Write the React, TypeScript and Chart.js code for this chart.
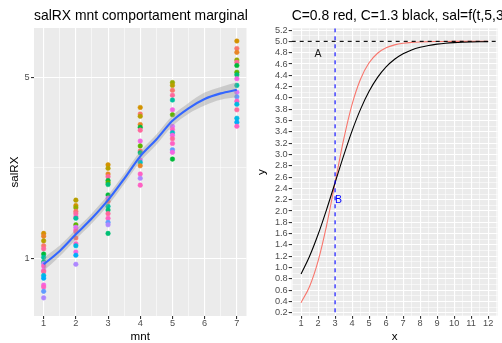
import React, { useEffect, useRef } from "react";
import { Chart, registerables } from "chart.js";

Chart.register(...registerables);

const FONT = "'Liberation Sans', Arial, Helvetica, sans-serif";
const PANEL_BG = "#EBEBEB";
const GRID = "#FFFFFF";
const TICK_TXT = "#4D4D4D";
const TICK_MARK = "#333333";

// ---------------- Left panel data ----------------
const LEFT_TITLE = "salRX mnt comportament marginal";
const LEFT_X_TITLE = "mnt";
const LEFT_Y_TITLE = "salRX";

const PALETTE = [
  "#F8766D", "#E88526", "#D39200", "#B79F00", "#93AA00", "#5EB300",
  "#00BA38", "#00BF74", "#00C19F", "#00BFC4", "#00B9E3", "#00ADFA",
  "#619CFF", "#AE87FF", "#DB72FB", "#F564E3", "#FF61C3", "#FF699C",
];

const MNT_LEVELS = [1, 2, 3, 4, 5, 7];
const SAL_M1 = [1.25, 1.22, 1.17, 1.12, 1.09, 1.04, 1.01, 0.97, 0.957, 0.935, 0.9, 0.89, 0.86, 0.84, 0.79, 0.776, 0.747, 0.705];
const GRP_M1 = [2, 1, 3, 0, 17, 6, 8, 7, 13, 16, 15, 17, 10, 11, 15, 16, 12, 13];
const SAL_M2 = [1.68, 1.6, 1.57, 1.52, 1.49, 1.45, 1.43, 1.35, 1.32, 1.29, 1.27, 1.2, 1.14, 1.12, 1.06, 1.03, 0.95];
const GRP_M2 = [3, 2, 4, 0, 17, 16, 8, 5, 14, 15, 17, 0, 16, 10, 15, 11, 13];
const SAL_M3 = [2.3, 2.23, 2.12, 2.07, 2.0, 1.96, 1.93, 1.76, 1.71, 1.66, 1.59, 1.54, 1.49, 1.43, 1.38, 1.35, 1.25];
const GRP_M3 = [2, 3, 1, 17, 6, 5, 7, 6, 14, 0, 8, 7, 17, 16, 12, 13, 7];
const SAL_M4 = [3.83, 3.61, 3.54, 3.29, 3.21, 3.13, 2.84, 2.72, 2.6, 2.56, 2.4, 2.35, 2.28, 2.12, 2.04, 1.92];
const GRP_M4 = [2, 0, 3, 1, 6, 17, 15, 5, 0, 7, 14, 9, 1, 16, 13, 16];
const SAL_M5 = [4.78, 4.66, 4.46, 4.27, 4.09, 3.75, 3.59, 3.24, 3.15, 3.06, 2.99, 2.9, 2.78, 2.63, 2.57, 2.42];
const GRP_M5 = [4, 3, 0, 17, 8, 15, 5, 14, 16, 9, 15, 17, 16, 12, 15, 6];
const SAL_M7 = [6.91, 6.47, 6.25, 5.84, 5.72, 5.56, 5.24, 5.12, 4.94, 4.66, 4.38, 4.21, 4.05, 3.94, 3.75, 3.48, 3.36, 3.24];
const GRP_M7 = [2, 0, 1, 4, 17, 6, 5, 7, 15, 8, 14, 12, 16, 10, 17, 10, 11, 16];

const SAL_COLUMNS = [SAL_M1, SAL_M2, SAL_M3, SAL_M4, SAL_M5, SAL_M7];
const GRP_COLUMNS = [GRP_M1, GRP_M2, GRP_M3, GRP_M4, GRP_M5, GRP_M7];

const SMOOTH_X = [1, 1.5, 2, 2.5, 3, 3.5, 4, 4.5, 5, 5.5, 6, 6.5, 7];
const SMOOTH_FIT = [0.95, 1.07, 1.24, 1.43, 1.68, 2.03, 2.48, 2.88, 3.4, 3.8, 4.13, 4.34, 4.48];
const SMOOTH_LO = [0.895, 1.02, 1.185, 1.367, 1.606, 1.94, 2.37, 2.752, 3.25, 3.625, 3.9, 4.1, 4.19];
const SMOOTH_HI = [1.008, 1.122, 1.298, 1.497, 1.758, 2.124, 2.595, 3.014, 3.557, 3.983, 4.37, 4.595, 4.79];

const LEFT_X_MIN = 0.7;
const LEFT_X_MAX = 7.3;
const LEFT_Y_MIN = 0.628;
const LEFT_Y_MAX = 7.76;
const LEFT_X_BREAKS = [1, 2, 3, 4, 5, 6, 7];
const LEFT_X_LABELS = ["1", "2", "3", "4", "5", "6", "7"];
const LEFT_Y_BREAKS = [1, 5];
const LEFT_Y_LABELS = ["1", "5"];

// ---------------- Right panel data ----------------
const RIGHT_TITLE = "C=0.8 red, C=1.3 black, sal=f(t,5,3,C)";
const RIGHT_X_TITLE = "x";
const RIGHT_Y_TITLE = "y";

const T_VALUES = [1, 1.5, 2, 2.5, 3, 3.5, 4, 4.5, 5, 5.5, 6, 6.5, 7, 7.5, 8, 8.5, 9, 9.5, 10, 10.5, 11, 11.5, 12];
const SAL_C08 = [0.379, 0.665, 1.114, 1.743, 2.5, 3.257, 3.886, 4.335, 4.621, 4.79, 4.885, 4.938, 4.967, 4.982, 4.99, 4.995, 4.997, 4.9985, 4.9992, 4.9996, 4.9998, 4.9999, 5.0];
const SAL_C13 = [0.884, 1.199, 1.583, 2.025, 2.5, 2.975, 3.417, 3.801, 4.116, 4.362, 4.548, 4.683, 4.78, 4.848, 4.895, 4.928, 4.951, 4.967, 4.977, 4.984, 4.989, 4.993, 4.995];

const H_LINE = 5;
const V_LINE = 3;
const LABEL_A = { text: "A", x: 2, y: 4.78 };
const LABEL_B = { text: "B", x: 3.2, y: 2.2 };

const RIGHT_X_MIN = 0.45;
const RIGHT_X_MAX = 12.55;
const RIGHT_Y_MIN = 0.148;
const RIGHT_Y_MAX = 5.231;
const RIGHT_X_BREAKS = [1, 2, 3, 4, 5, 6, 7, 8, 9, 10, 11, 12];
const RIGHT_Y_BREAKS = [0.2, 0.4, 0.6, 0.8, 1.0, 1.2, 1.4, 1.6, 1.8, 2.0, 2.2, 2.4, 2.6, 2.8, 3.0, 3.2, 3.4, 3.6, 3.8, 4.0, 4.2, 4.4, 4.6, 4.8, 5.0, 5.2];
const RIGHT_Y_LABELS = ["0.2", "0.4", "0.6", "0.8", "1.0", "1.2", "1.4", "1.6", "1.8", "2.0", "2.2", "2.4", "2.6", "2.8", "3.0", "3.2", "3.4", "3.6", "3.8", "4.0", "4.2", "4.4", "4.6", "4.8", "5.0", "5.2"];

// ---------------- helpers ----------------
function minorBreaks(b: number[], min: number, max: number, log = false): number[] {
  const t = log ? b.map((v) => Math.log(v)) : b.slice();
  const d = t[1] - t[0];
  const ext = [t[0] - d, ...t, t[t.length - 1] + d];
  const out: number[] = [];
  for (let i = 0; i < ext.length - 1; i++) {
    const m = (ext[i] + ext[i + 1]) / 2;
    const v = log ? Math.exp(m) : m;
    if (v > min && v < max) out.push(v);
  }
  return out;
}

function indexIn(list: number[], v: number): number {
  for (let i = 0; i < list.length; i++) if (Math.abs(list[i] - v) < 1e-7) return i;
  return -1;
}

function axisFor(opts: {
  type: "linear" | "logarithmic";
  min: number;
  max: number;
  breaks: number[];
  labels: string[];
  log?: boolean;
  horizontal: boolean;
  size: number;
  title: string;
  titlePad: any;
  labelPad: number;
}) {
  const minors = minorBreaks(opts.breaks, opts.min, opts.max, !!opts.log);
  const all = [...opts.breaks, ...minors].sort((a, b) => a - b);
  return {
    type: opts.type,
    min: opts.min,
    max: opts.max,
    position: opts.horizontal ? "bottom" : "left",
    afterBuildTicks: (scale: any) => {
      scale.ticks = all.map((v) => ({ value: v }));
    },
    afterFit: (scale: any) => {
      if (opts.horizontal) scale.height = opts.size;
      else scale.width = opts.size;
    },
    border: { display: false },
    grid: {
      color: GRID,
      lineWidth: (ctx: any) => (ctx.tick && indexIn(opts.breaks, ctx.tick.value) >= 0 ? 1.1 : 0.55),
      tickColor: (ctx: any) => (ctx.tick && indexIn(opts.breaks, ctx.tick.value) >= 0 ? TICK_MARK : "rgba(0,0,0,0)"),
      tickWidth: 1.1,
      tickLength: 3,
      drawTicks: true,
      drawOnChartArea: true,
    },
    ticks: {
      autoSkip: false,
      maxRotation: 0,
      minRotation: 0,
      padding: opts.labelPad,
      color: TICK_TXT,
      font: { family: FONT, size: 9.2, lineHeight: 1 },
      callback: (value: any) => {
        const i = indexIn(opts.breaks, Number(value));
        return i >= 0 ? opts.labels[i] : "";
      },
    },
    title: {
      display: true,
      text: opts.title,
      color: "#000000",
      font: { family: FONT, size: 11.6, lineHeight: 1.2 },
      padding: opts.titlePad,
    },
  };
}

const panelPlugin = (title: string) => ({
  id: "panelDecor",
  beforeDraw(chart: any) {
    const { ctx, chartArea } = chart;
    ctx.save();
    ctx.fillStyle = PANEL_BG;
    ctx.fillRect(chartArea.left, chartArea.top, chartArea.right - chartArea.left, chartArea.bottom - chartArea.top);
    ctx.restore();
  },
  afterDraw(chart: any) {
    const { ctx, chartArea } = chart;
    ctx.save();
    ctx.font = `13.9px ${FONT}`;
    ctx.fillStyle = "#000000";
    ctx.textAlign = "left";
    ctx.textBaseline = "alphabetic";
    ctx.fillText(title, chartArea.left, 19.5);
    ctx.restore();
  },
});

const refPlugin = {
  id: "refLines",
  afterDatasetsDraw(chart: any) {
    const { ctx, chartArea, scales } = chart;
    const x = scales.x;
    const y = scales.y;
    ctx.save();
    ctx.beginPath();
    ctx.rect(chartArea.left, chartArea.top, chartArea.right - chartArea.left, chartArea.bottom - chartArea.top);
    ctx.clip();
    ctx.lineWidth = 1.1;
    ctx.setLineDash([4, 4]);
    const vx = x.getPixelForValue(V_LINE);
    ctx.strokeStyle = "#0000FF";
    ctx.beginPath();
    ctx.moveTo(vx, chartArea.top);
    ctx.lineTo(vx, chartArea.bottom);
    ctx.stroke();
    const hy = y.getPixelForValue(H_LINE);
    ctx.strokeStyle = "#000000";
    ctx.beginPath();
    ctx.moveTo(chartArea.left, hy);
    ctx.lineTo(chartArea.right, hy);
    ctx.stroke();
    ctx.setLineDash([]);
    ctx.font = `10.5px ${FONT}`;
    ctx.textAlign = "center";
    ctx.textBaseline = "middle";
    ctx.fillStyle = "#1A1A1A";
    ctx.fillText(LABEL_A.text, x.getPixelForValue(LABEL_A.x), y.getPixelForValue(LABEL_A.y));
    ctx.fillStyle = "#0000FF";
    ctx.fillText(LABEL_B.text, x.getPixelForValue(LABEL_B.x), y.getPixelForValue(LABEL_B.y));
    ctx.restore();
  },
};

function leftConfig(): any {
  const pts: { x: number; y: number }[] = [];
  const cols: string[] = [];
  MNT_LEVELS.forEach((m, ci) => {
    SAL_COLUMNS[ci].forEach((s, k) => {
      pts.push({ x: m, y: s });
      cols.push(PALETTE[GRP_COLUMNS[ci][k]]);
    });
  });
  const xy = (ys: number[]) => SMOOTH_X.map((x, i) => ({ x, y: ys[i] }));
  return {
    type: "line",
    data: {
      datasets: [
        {
          label: "fit",
          data: xy(SMOOTH_FIT),
          borderColor: "#3366FF",
          borderWidth: 2.1,
          pointRadius: 0,
          fill: false,
          cubicInterpolationMode: "monotone",
          order: 1,
        },
        {
          label: "hi",
          data: xy(SMOOTH_HI),
          borderColor: "rgba(0,0,0,0)",
          borderWidth: 0,
          pointRadius: 0,
          fill: "+1",
          backgroundColor: "rgba(153,153,153,0.4)",
          cubicInterpolationMode: "monotone",
          order: 2,
        },
        {
          label: "lo",
          data: xy(SMOOTH_LO),
          borderColor: "rgba(0,0,0,0)",
          borderWidth: 0,
          pointRadius: 0,
          fill: false,
          cubicInterpolationMode: "monotone",
          order: 3,
        },
        {
          label: "points",
          data: pts,
          showLine: false,
          pointRadius: 2.3,
          pointBorderWidth: 0.5,
          pointBackgroundColor: cols,
          pointBorderColor: cols,
          order: 4,
        },
      ],
    },
    options: {
      animation: false,
      responsive: false,
      events: [],
      layout: { padding: { top: 28, right: 3, bottom: 0, left: 0 } },
      plugins: { legend: { display: false }, tooltip: { enabled: false }, title: { display: false } },
      scales: {
        x: axisFor({
          type: "linear", min: LEFT_X_MIN, max: LEFT_X_MAX, breaks: LEFT_X_BREAKS, labels: LEFT_X_LABELS,
          horizontal: true, size: 27, title: LEFT_X_TITLE, titlePad: { top: 0, bottom: -0.8 }, labelPad: 0,
        }),
        y: axisFor({
          type: "logarithmic", min: LEFT_Y_MIN, max: LEFT_Y_MAX, breaks: LEFT_Y_BREAKS, labels: LEFT_Y_LABELS,
          log: true, horizontal: false, size: 34, title: LEFT_Y_TITLE, titlePad: { top: 8, bottom: 0 }, labelPad: 1.5,
        }),
      },
    },
    plugins: [panelPlugin(LEFT_TITLE)],
  };
}

function rightConfig(): any {
  const xy = (ys: number[]) => T_VALUES.map((x, i) => ({ x, y: ys[i] }));
  return {
    type: "line",
    data: {
      datasets: [
        {
          label: "C=0.8",
          data: xy(SAL_C08),
          borderColor: "#F8766D",
          borderWidth: 1.1,
          pointRadius: 0,
          fill: false,
          cubicInterpolationMode: "monotone",
          order: 2,
        },
        {
          label: "C=1.3",
          data: xy(SAL_C13),
          borderColor: "#000000",
          borderWidth: 1.1,
          pointRadius: 0,
          fill: false,
          cubicInterpolationMode: "monotone",
          order: 1,
        },
      ],
    },
    options: {
      animation: false,
      responsive: false,
      events: [],
      layout: { padding: { top: 28.3, right: 4.5, bottom: 0, left: 0 } },
      plugins: { legend: { display: false }, tooltip: { enabled: false }, title: { display: false } },
      scales: {
        x: axisFor({
          type: "linear", min: RIGHT_X_MIN, max: RIGHT_X_MAX, breaks: RIGHT_X_BREAKS, labels: RIGHT_X_BREAKS.map(String),
          horizontal: true, size: 27.3, title: RIGHT_X_TITLE, titlePad: { top: 0, bottom: -0.8 }, labelPad: 0,
        }),
        y: axisFor({
          type: "linear", min: RIGHT_Y_MIN, max: RIGHT_Y_MAX, breaks: RIGHT_Y_BREAKS, labels: RIGHT_Y_LABELS,
          horizontal: false, size: 40.7, title: RIGHT_Y_TITLE, titlePad: { top: 4, bottom: 0 }, labelPad: 1,
        }),
      },
    },
    plugins: [panelPlugin(RIGHT_TITLE), refPlugin],
  };
}

function Panel({ make, left }: { make: () => any; left: number }) {
  const ref = useRef<HTMLCanvasElement>(null);
  useEffect(() => {
    if (!ref.current) return;
    const chart = new Chart(ref.current, make());
    return () => chart.destroy();
  }, []);
  return (
    <canvas
      ref={ref}
      width={251}
      height={343}
      style={{ position: "absolute", left, top: 0, width: 251, height: 343, display: "block" }}
    />
  );
}

export default function App() {
  return (
    <div style={{ position: "absolute", left: 0, top: 0, width: 502, height: 343, background: "#FFFFFF", overflow: "hidden" }}>
      <Panel make={leftConfig} left={0} />
      <Panel make={rightConfig} left={251} />
    </div>
  );
}
